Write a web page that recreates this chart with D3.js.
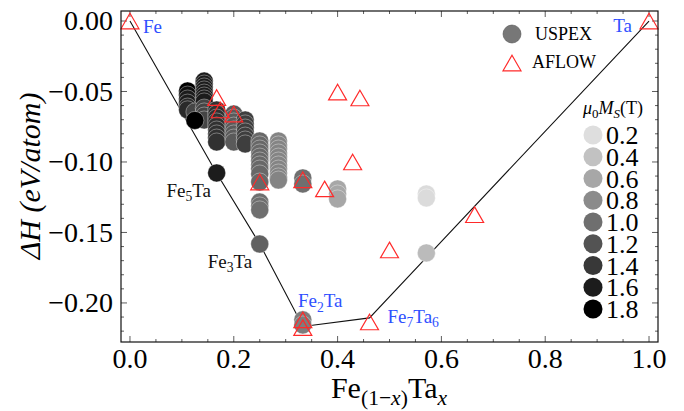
<!DOCTYPE html>
<html>
<head>
<meta charset="utf-8">
<script src="https://cdn.jsdelivr.net/npm/d3@7"></script>
<style>
  html, body { margin: 0; padding: 0; background: #fff; }
  svg { display: block; }
  svg text, svg tspan { font-family: "Liberation Serif", "DejaVu Serif", serif; }
</style>
</head>
<body>
<div id="chart"></div>
<script>
// Datos
// USPEX: composición x, entalpía de formación (eV/atom), magnetización mu0Ms (T)
const uspexX = [
  0.111, 0.111, 0.111, 0.111, 0.111, 0.111,
  0.143, 0.143, 0.143, 0.143, 0.143, 0.143, 0.143, 0.143,
  0.125, 0.143, 0.143, 0.143, 0.143, 0.125,
  0.167, 0.167, 0.167, 0.167, 0.167, 0.167, 0.167, 0.167, 0.167,
  0.2, 0.2, 0.2, 0.2, 0.2, 0.2, 0.2, 0.2,
  0.222, 0.222, 0.222, 0.222, 0.222, 0.222, 0.222,
  0.25, 0.25, 0.25, 0.25, 0.25, 0.25, 0.25, 0.25, 0.25, 0.25,
  0.286, 0.286, 0.286, 0.286, 0.286, 0.286, 0.286, 0.286, 0.286, 0.286, 0.286,
  0.333, 0.333,
  0.4, 0.4, 0.4,
  0.25, 0.25, 0.25,
  0.167, 0.25,
  0.571, 0.571, 0.571,
  0.333, 0.333
];
const uspexH = [
  -0.0496, -0.0525, -0.0553, -0.0582, -0.061, -0.063,
  -0.0426, -0.0447, -0.0468, -0.0489, -0.0511, -0.0532, -0.0553, -0.0574,
  -0.0645, -0.0617, -0.0645, -0.0674, -0.0702, -0.0705,
  -0.0631, -0.066, -0.0688, -0.0716, -0.0745, -0.0773, -0.0801, -0.083, -0.0858,
  -0.066, -0.0688, -0.0716, -0.0745, -0.0773, -0.0801, -0.083, -0.0858,
  -0.0702, -0.073, -0.0759, -0.0787, -0.0816, -0.0844, -0.0872,
  -0.0851, -0.0879, -0.0908, -0.0936, -0.0965, -0.0993, -0.1021, -0.105, -0.1085, -0.1142,
  -0.0851, -0.0879, -0.0908, -0.0936, -0.0965, -0.0993, -0.1021, -0.105, -0.1078, -0.1106, -0.1128,
  -0.1113, -0.1156,
  -0.1191, -0.1227, -0.1262,
  -0.1284, -0.1312, -0.134,
  -0.1078, -0.1582,
  -0.1227, -0.1255, -0.1645,
  -0.212, -0.2156
];
const uspexM = [
  1.8, 1.7, 1.6, 1.6, 1.5, 1.5,
  1.6, 1.6, 1.6, 1.6, 1.6, 1.6, 1.6, 1.6,
  1.3, 1.3, 1.3, 1.3, 1.3, 1.8,
  1.45, 1.45, 1.45, 1.45, 1.45, 1.45, 1.45, 1.45, 1.45,
  1.15, 1.15, 1.15, 1.15, 1.15, 1.15, 1.15, 1.15,
  1.35, 1.35, 1.35, 1.35, 1.35, 1.35, 1.35,
  1.05, 1.05, 1.05, 1.05, 1.05, 1.05, 1.05, 1.05, 1.05, 1.05,
  0.85, 0.85, 0.85, 0.85, 0.85, 0.85, 0.85, 0.85, 0.85, 0.85, 0.85,
  1.0, 1.0,
  0.6, 0.6, 0.6,
  1.0, 1.0, 1.0,
  1.6, 1.1,
  0.22, 0.22, 0.45,
  0.9, 0.9
];

// AFLOW
const aflowX = [0, 0.167, 0.174, 0.2, 0.25, 0.333, 0.375, 0.4, 0.429, 0.443, 0.5, 0.664, 0.333, 0.333, 0.4615, 1];
const aflowH = [0, -0.0543, -0.0631, -0.066, -0.1142, -0.1126, -0.1191, -0.0504, -0.1, -0.0546, -0.1624, -0.1374, -0.212, -0.2175, -0.2135, 0];

// Envolvente convexa
const hullX = [0, 0.1667, 0.25, 0.3333, 0.4615, 1];
const hullH = [0, -0.1078, -0.1582, -0.2167, -0.2106, 0];

// Etiquetas de fases
const phaseLabels = [
  { parts: [["Fe", ""]], x: 0, h: 0, color: "blue" },
  { parts: [["Ta", ""]], x: 1, h: 0, color: "blue" },
  { parts: [["Fe", ""], ["5", "sub"], ["Ta", ""]], x: 0.1667, h: -0.1078, color: "black" },
  { parts: [["Fe", ""], ["3", "sub"], ["Ta", ""]], x: 0.25, h: -0.1582, color: "black" },
  { parts: [["Fe", ""], ["2", "sub"], ["Ta", ""]], x: 0.3333, h: -0.2167, color: "blue" },
  { parts: [["Fe", ""], ["7", "sub"], ["Ta", ""], ["6", "sub"]], x: 0.4615, h: -0.2106, color: "blue" }
];
// desplazamientos de etiqueta en px (dx, dy, anchor)
const labelOffsets = [[13, 12, "start"], [-17, 11, "end"], [-50, 24, "start"], [-52, 24, "start"], [-5, -19, "start"], [18, 5, "start"]];

const xTicks = [0, 0.2, 0.4, 0.6, 0.8, 1.0];
const yTicks = [0, -0.05, -0.1, -0.15, -0.2];
const msTicks = [0.2, 0.4, 0.6, 0.8, 1.0, 1.2, 1.4, 1.6, 1.8];

const W = 684, H = 411;
const BLUE = "#2f50ff";
const RED = "#ff2a2a";

const svg = d3.select("#chart").append("svg").attr("width", W).attr("height", H);

const frame = { left: 121, top: 11, right: 658, bottom: 342 };
const x = d3.scaleLinear().domain([-0.0173, 1.0173]).range([frame.left, frame.right]);
const y = d3.scaleLinear().domain([-0.2277, 0.0071]).range([frame.bottom, frame.top]);
const grey = d3.scaleLinear().domain([0.2, 1.8]).range(["#dedede", "#000000"]);

// texto con subíndices / cursiva
function rich(sel, parts, size) {
  let shifted = false;
  parts.forEach(([t, st]) => {
    const sp = sel.append("tspan").text(t);
    const isSub = st.includes("sub");
    if (st.includes("i")) sp.attr("font-style", "italic");
    if (isSub) {
      sp.attr("font-size", size * 0.72);
      if (!shifted) { sp.attr("dy", size * 0.22); shifted = true; }
    } else {
      sp.attr("font-size", size);
      if (shifted) { sp.attr("dy", -size * 0.22); shifted = false; }
    }
  });
}

// Marco y ticks
const ticksG = svg.append("g").attr("stroke", "#333").attr("stroke-width", 0.8);
const xMinor = d3.range(0, 1.0001, 0.05);
const yMinor = d3.range(-0.22, 0.0001, 0.01);
xMinor.forEach(v => {
  const major = xTicks.some(t => Math.abs(t - v) < 1e-6);
  const L = major ? 6 : 3;
  ticksG.append("line").attr("x1", x(v)).attr("x2", x(v)).attr("y1", frame.bottom).attr("y2", frame.bottom - L);
  ticksG.append("line").attr("x1", x(v)).attr("x2", x(v)).attr("y1", frame.top).attr("y2", frame.top + L);
});
yMinor.forEach(v => {
  const major = yTicks.some(t => Math.abs(t - v) < 1e-6);
  const L = major ? 6 : 3;
  ticksG.append("line").attr("x1", frame.left).attr("x2", frame.left + L).attr("y1", y(v)).attr("y2", y(v));
  ticksG.append("line").attr("x1", frame.right).attr("x2", frame.right - L).attr("y1", y(v)).attr("y2", y(v));
});

svg.append("g").selectAll("text").data(xTicks).join("text")
  .attr("x", d => x(d)).attr("y", 368)
  .attr("text-anchor", "middle").attr("font-size", 28)
  .text(d => d3.format(".1f")(d));

svg.append("g").selectAll("text").data(yTicks).join("text")
  .attr("x", 113).attr("y", d => y(d)).attr("dy", "0.33em")
  .attr("text-anchor", "end").attr("font-size", 28)
  .text(d => d === 0 ? "0.00" : "\u2212" + d3.format(".2f")(-d));

// Títulos de ejes
const xt = svg.append("text").attr("x", 389).attr("y", 398).attr("text-anchor", "middle");
rich(xt, [["Fe", ""], ["(1\u2212", "sub"], ["x", "subi"], [")", "sub"], ["Ta", ""], ["x", "subi"]], 30);

svg.append("text")
  .attr("transform", "translate(40,176) rotate(-90)")
  .attr("text-anchor", "middle").attr("font-size", 30)
  .attr("font-style", "italic")
  .text("\u0394H (eV/atom)");

// Línea de la envolvente
const hull = hullX.map((v, i) => [v, hullH[i]]);
svg.append("path")
  .attr("d", d3.line().x(d => x(d[0])).y(d => y(d[1]))(hull))
  .attr("fill", "none").attr("stroke", "#111").attr("stroke-width", 1.1);

// Puntos USPEX
const uspex = uspexX.map((v, i) => ({ x: v, h: uspexH[i], m: uspexM[i] }));
svg.append("g").selectAll("circle").data(uspex).join("circle")
  .attr("cx", d => x(d.x)).attr("cy", d => y(d.h)).attr("r", 9)
  .attr("fill", d => grey(d.m))
  .attr("stroke", "#ffffff").attr("stroke-opacity", 0.45).attr("stroke-width", 0.8);

// Triángulos AFLOW
const triSize = 140;
const triSide = Math.sqrt(4 * triSize / Math.sqrt(3));
const triOff = triSide * Math.sqrt(3) / 2 / 6;
const tri = d3.symbol(d3.symbolTriangle, triSize);
const aflow = aflowX.map((v, i) => ({ x: v, h: aflowH[i] }));
svg.append("g").selectAll("path").data(aflow).join("path")
  .attr("d", tri)
  .attr("transform", d => `translate(${x(d.x)},${y(d.h) + triOff})`)
  .attr("fill", "none").attr("stroke", RED).attr("stroke-width", 1.2);

// Etiquetas de fases
phaseLabels.forEach((p, i) => {
  const [dx, dy, anchor] = labelOffsets[i];
  const t = svg.append("text")
    .attr("x", x(p.x) + dx).attr("y", y(p.h) + dy)
    .attr("text-anchor", anchor)
    .attr("fill", p.color === "blue" ? BLUE : "#111");
  rich(t, p.parts, 19);
});

// Leyenda
svg.append("circle").attr("cx", 512).attr("cy", 34).attr("r", 9).attr("fill", "#777")
  .attr("stroke", "#555").attr("stroke-width", 0.6);
svg.append("text").attr("x", 535).attr("y", 40).attr("font-size", 18).text("USPEX");
svg.append("path").attr("d", tri).attr("transform", `translate(512,${63 + triOff})`)
  .attr("fill", "none").attr("stroke", RED).attr("stroke-width", 1.2);
svg.append("text").attr("x", 532).attr("y", 68).attr("font-size", 18).text("AFLOW");

// Escala de magnetización
const mt = svg.append("text").attr("x", 583).attr("y", 114);
rich(mt, [["\u03bc", "i"], ["0", "sub"], ["M", "i"], ["S", "subi"], ["(T)", ""]], 18);

const legY = d3.scalePoint().domain(msTicks).range([135, 309]);
const lg = svg.append("g");
lg.selectAll("circle").data(msTicks).join("circle")
  .attr("cx", 593).attr("cy", d => legY(d)).attr("r", 9.5)
  .attr("fill", d => grey(d));
lg.selectAll("text").data(msTicks).join("text")
  .attr("x", 606).attr("y", d => legY(d) + 9)
  .attr("font-size", 26)
  .text(d => d3.format(".1f")(d));

// Marco
svg.append("rect")
  .attr("x", frame.left).attr("y", frame.top)
  .attr("width", frame.right - frame.left).attr("height", frame.bottom - frame.top)
  .attr("fill", "none").attr("stroke", "#111").attr("stroke-width", 1.2);
</script>
</body>
</html>
